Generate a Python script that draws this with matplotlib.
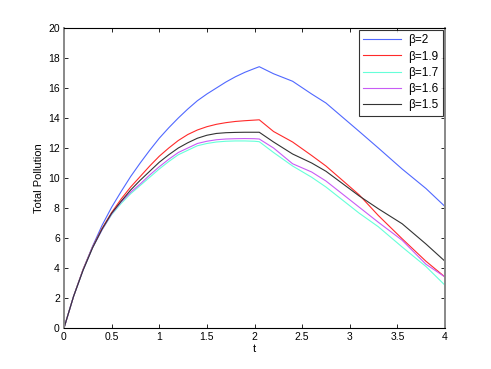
import matplotlib
matplotlib.use("Agg")
import matplotlib.pyplot as plt

t = [0, 0.1, 0.2, 0.3, 0.4, 0.5, 0.6, 0.7, 0.8, 0.9, 1.0, 1.1, 1.2, 1.3, 1.4, 1.5, 1.6, 1.7,
     1.8, 1.9, 2.0, 2.05, 2.2, 2.4, 2.6, 2.75, 3.1, 3.3, 3.55, 3.8, 4.0]

b20 = [0, 2.1, 3.9, 5.45, 6.85, 8.05, 9.1, 10.1, 11.0, 11.85, 12.65, 13.35, 14.0, 14.6, 15.15,
       15.6, 16.0, 16.4, 16.75, 17.05, 17.3, 17.42,
       16.95, 16.45, 15.6, 15.0, 13.1, 12.0, 10.6, 9.3, 8.1]
b19 = [0, 2.1, 3.9, 5.4, 6.65, 7.7, 8.6, 9.4, 10.1, 10.8, 11.45, 12.0, 12.5, 12.9, 13.2,
       13.42, 13.58, 13.69, 13.77, 13.82, 13.86, 13.88,
       13.1, 12.4, 11.5, 10.8, 8.87, 7.5, 5.95, 4.45, 3.4]
b17 = [0, 2.1, 3.85, 5.35, 6.55, 7.55, 8.3, 8.95, 9.5, 10.05, 10.6, 11.1, 11.55, 11.85, 12.15,
       12.3, 12.4, 12.45, 12.47, 12.47, 12.45, 12.42,
       11.7, 10.8, 10.05, 9.4, 7.65, 6.75, 5.4, 4.1, 2.85]
b16 = [0, 2.1, 3.85, 5.35, 6.55, 7.6, 8.4, 9.05, 9.6, 10.2, 10.75, 11.25, 11.7, 12.0, 12.3,
       12.45, 12.55, 12.6, 12.62, 12.63, 12.62, 12.6,
       12.0, 10.95, 10.4, 9.8, 8.05, 7.05, 5.85, 4.25, 3.4]
b15 = [0, 2.1, 3.85, 5.35, 6.6, 7.65, 8.45, 9.2, 9.85, 10.45, 11.05, 11.55, 12.0, 12.35, 12.65,
       12.85, 12.97, 13.02, 13.04, 13.05, 13.05, 13.05,
       12.4, 11.6, 11.0, 10.45, 8.8, 7.95, 6.95, 5.6, 4.45]

series = [(b20, "β=2", "#5068ff"),
          (b19, "β=1.9", "#ff2a2a"),
          (b17, "β=1.7", "#66ffd9"),
          (b16, "β=1.6", "#c85cf5"),
          (b15, "β=1.5", "#333333")]

plt.rcParams['font.family'] = ['Liberation Sans', 'DejaVu Sans']

fig = plt.figure(figsize=(4.91, 3.69), dpi=100)
ax = fig.add_axes([64/491, 1-328/369, (445-64)/491, 300/369])

for ys, lab, c in series:
    ax.plot(t, ys, color=c, lw=0.8, label=lab)

ax.set_xlim(0, 4)
ax.set_ylim(0, 20)
ax.set_xticks([0, 0.5, 1, 1.5, 2, 2.5, 3, 3.5, 4])
ax.set_xticklabels(["0", "0.5", "1", "1.5", "2", "2.5", "3", "3.5", "4"])
ax.set_yticks(range(0, 21, 2))
ax.tick_params(direction='in', top=True, right=True, labelsize=7.5, length=3, width=0.6, pad=3)
ax.set_xlabel("t", fontsize=8, labelpad=1)
ax.set_ylabel("Total Pollution", fontsize=8, labelpad=3)

for s in ['top', 'bottom']:
    ax.spines[s].set_color('black')
    ax.spines[s].set_linewidth(0.8)
for s in ['left', 'right']:
    ax.spines[s].set_color('#888888')
    ax.spines[s].set_linewidth(1.4)

leg = ax.legend(loc='upper right', fontsize=8.5, frameon=True, fancybox=False,
                edgecolor='black', borderaxespad=0.15, handlelength=3.2,
                labelspacing=0.35, borderpad=0.4, handletextpad=0.6)
leg.get_frame().set_linewidth(0.8)

fig.savefig("out.png", dpi=100)
